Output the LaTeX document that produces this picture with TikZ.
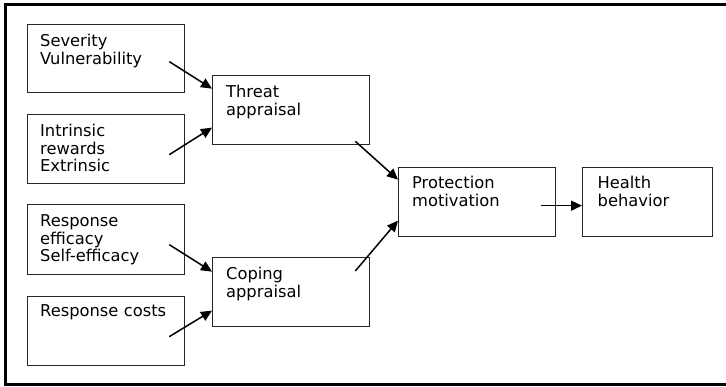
\documentclass[tikz,border=0pt]{standalone}
\usepackage{fontspec}
\setmainfont{DejaVu Sans}
\usetikzlibrary{arrows.meta}
\begin{document}
\begin{tikzpicture}[x=1pt,y=-1pt,
  box/.style={draw=black!85, line width=1.3pt, rectangle, anchor=north west,
    minimum width=157pt, minimum height=69pt, inner xsep=11.5pt, inner ysep=0pt,
    text width=132pt, align=left, text height=22pt, text depth=47pt,
    font=\fontsize{16.3}{17.5}\selectfont},
  arr/.style={line width=1.5pt, -{Triangle[length=11pt,width=10pt]}}]
\useasboundingbox (0,0) rectangle (726,386);
\draw[line width=3pt] (5,4) rectangle (745,384);
\node[box, minimum height=68pt, text depth=46pt] (sev) at (27,24) {Severity\\Vulnerability};
\node[box] (intr) at (27,114) {Intrinsic\\rewards\\Extrinsic};
\node[box, minimum height=70pt, text height=22pt, text depth=48pt] (resp) at (27,204) {Response\\efficacy\\Self-efficacy};
\node[box, text height=20pt, text depth=49pt] (cost) at (27,296) {Response costs};
\node[box, inner xsep=12.5pt, text width=130pt] (threat) at (212,75) {Threat\\appraisal};
\node[box, inner xsep=12.5pt, text width=130pt] (coping) at (212,257) {Coping\\appraisal};
\node[box, inner xsep=12.5pt, text width=130pt, text height=21pt, text depth=48pt] (prot) at (398,167) {Protection\\motivation};
\node[box, inner xsep=13pt, minimum width=130pt, text width=100pt, text height=21pt, text depth=48pt] (health) at (582,167) {Health\\behavior};
\draw[arr] ([shift={(-16,3)}]sev.east) -- ([shift={(0,-21.5)}]threat.west);
\draw[arr] ([shift={(-16,5.5)}]intr.east) -- ([shift={(0,17.5)}]threat.west);
\draw[arr] ([shift={(-16,5)}]resp.east) -- ([shift={(0,-20.5)}]coping.west);
\draw[arr] ([shift={(-16,5.5)}]cost.east) -- ([shift={(0,18.5)}]coping.west);
\draw[arr] ([shift={(-15,-4)}]threat.south east) -- ([shift={(0,-22.5)}]prot.west);
\draw[arr] ([shift={(-15,14)}]coping.north east) -- ([shift={(0,18.5)}]prot.west);
\draw[arr] ([shift={(-15,3.5)}]prot.east) -- ([shift={(0,3.5)}]health.west);
\end{tikzpicture}
\end{document}
